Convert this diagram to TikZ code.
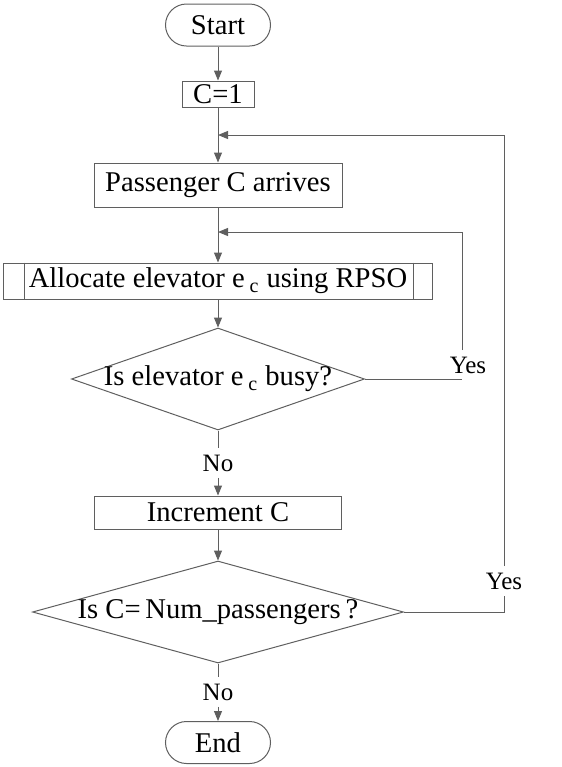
\documentclass[tikz,border=0pt]{standalone}
\usepackage{fontspec}
\setmainfont{Liberation Serif}
\usepackage{tikz}
\usetikzlibrary{shapes.geometric,arrows.meta}
\definecolor{FlowLineColor}{RGB}{95,95,95}

\begin{document}
\begin{tikzpicture}[x=0.5pt,y=-0.5pt,line width=0.5pt,draw=FlowLineColor,
  font=\fontsize{14.3}{17}\selectfont,
  box/.style n args={2}{rectangle,draw,inner sep=0pt,minimum width=#1pt,minimum height=#2pt},
  term/.style={box={52.5}{21},rounded corners=10.5pt},
  dec/.style n args={3}{diamond,draw,inner xsep=-30pt,inner ysep=0pt,minimum width=#1pt,minimum height=#2pt,shape aspect=#3},
  lbl/.style={font=\fontsize{12.5}{14}\selectfont,inner sep=3pt},
  arr/.style={-{Triangle[length=5pt,width=4pt]}}]
\useasboundingbox (0,0) rectangle (562,767);
\node[term](start) at(218,25) {Start};
\node[box={36}{13}](c1) at(218,94) {C=1};
\node[box={124}{22}](pass) at(218,185) {Passenger C arrives};
\node[box={214.5}{18}](alloc) at(218,281) {Allocate elevator e\,\textsubscript{c} using RPSO};
\draw ([xshift=10.5pt]alloc.north west) -- ([xshift=10.5pt]alloc.south west)
   ([xshift=-10pt]alloc.north east) -- ([xshift=-10pt]alloc.south east);
\node[dec={146.5}{51}{2.87}](busy) at(218,379) {Is elevator e\,\textsubscript{c} busy?};
\node[lbl](no1) at(218,463) {No};
\node[box={123.5}{16.5}](inc) at(218,512.5) {Increment C};
\node[dec={185.5}{51}{3.64}](last) at(218,612) {Is C=\,Num\_passengers\,?};
\node[lbl](no2) at(218,692) {No};
\node[term](stop) at(218,742.5) {End};
\node[lbl](yes1) at(468,365) {Yes};
\node[lbl](yes2) at(504,581) {Yes};
% loop joints
\coordinate (j1) at (218,135);
\coordinate (j2) at (218,232);
\coordinate (r1) at (462,379);
\draw[arr] (start) -- (c1);
\draw[arr] (c1) -- (pass);
\draw[arr] (pass) -- (alloc);
\draw[arr] (alloc) -- (busy);
\draw (busy) -- (no1);
\draw[arr] (no1) -- (inc);
\draw[arr] (inc) -- (last);
\draw (last) -- (no2);
\draw[arr] (no2) -- (stop);
\draw (busy.east) -- (r1);
\draw[arr] (yes1.north -| r1) |- (j2);
\draw (last.east) -| (yes2.south);
\draw[arr] (yes2.north) |- (j1);
\end{tikzpicture}
\end{document}
